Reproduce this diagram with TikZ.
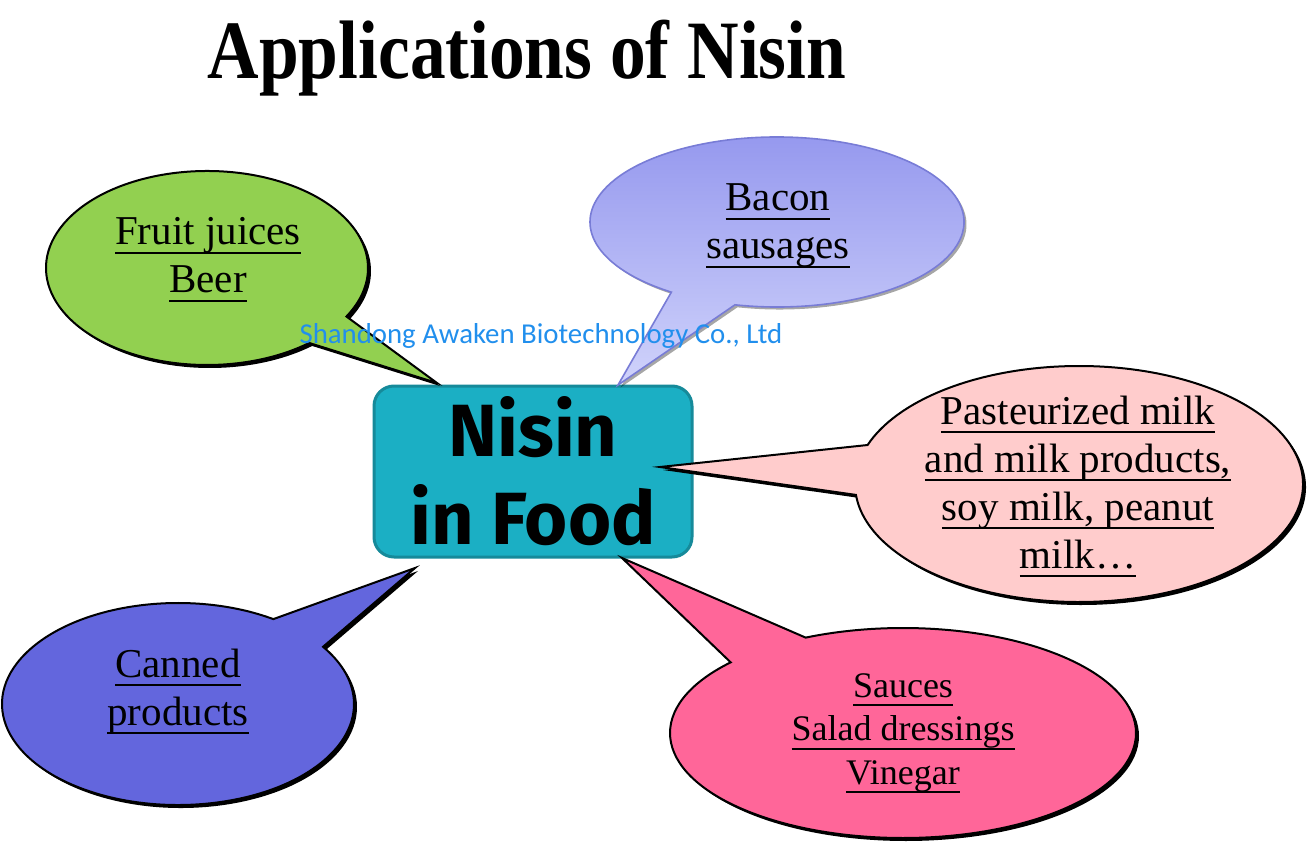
\documentclass[tikz,border=0pt]{standalone}
\usepackage{fontspec}
\usepackage{graphicx}
\setmainfont{Liberation Serif}
\newfontfamily\nisinfont{Fira Sans}
\newfontfamily\wmfont{Carlito}
\usetikzlibrary{calc,shadows}
\newsavebox\ulbox
\newcommand\ulx[1]{\sbox\ulbox{#1}\rlap{\rule[-9pt]{\wd\ulbox}{2pt}}\usebox\ulbox}
\definecolor{gr}{RGB}{146,208,80}
\definecolor{lavtop}{RGB}{148,151,238}
\definecolor{lavbot}{RGB}{208,211,251}
\definecolor{lavline}{RGB}{120,124,214}
\definecolor{lpink}{RGB}{255,204,204}
\definecolor{bl}{RGB}{99,102,221}
\definecolor{hpink}{RGB}{255,102,153}
\definecolor{tealf}{RGB}{27,175,196}
\definecolor{teald}{RGB}{22,138,154}
\definecolor{wmblue}{RGB}{33,143,237}
\begin{document}
\begin{tikzpicture}[x=1pt,y=1pt,
  bubble/.style={draw=black, line width=2pt, line join=miter},
  blackshadow/.style={drop shadow={shadow xshift=3pt, shadow yshift=-3pt, opacity=1, fill=black}},
  grayshadow/.style={drop shadow={shadow xshift=2.5pt, shadow yshift=-2.5pt, opacity=0.35, fill=black}},
  btext/.style={align=center, inner sep=0pt, font=\fontsize{41}{48}\selectfont},
  stext/.style={align=center, inner sep=0pt, font=\fontsize{36}{43.5}\selectfont},
  boxstyle/.style={rectangle, rounded corners=20pt, fill=tealf, draw=teald, line width=3pt,
    minimum width=318pt, minimum height=171pt, inner sep=0pt, align=center,
    font=\nisinfont\bfseries\fontsize{74}{88}\selectfont},
  wm/.style={inner sep=0pt, text=wmblue, font=\wmfont\fontsize{28.8}{32}\selectfont}]
\useasboundingbox (0,0) rectangle (1308,-845);
\fill[white] (0,0) rectangle (1308,-845);

% title
\node[anchor=base, inner sep=0pt] (title) at (527,-79)
  {\scalebox{0.86}[1]{\bfseries\fontsize{83}{90}\selectfont Applications of Nisin}};

% central box
\node[boxstyle] (box) at (533,-471.5) {Nisin\\in Food};

% pointer tips
\coordinate (tG) at (437,-383);
\coordinate (tL) at (618,-385);
\coordinate (tP) at (660,-467);
\coordinate (tB) at (415,-568);
\coordinate (tS) at (622,-558);

% ellipse centres
\coordinate (cG) at (207,-268);
\coordinate (cL) at (777,-222);
\coordinate (cP) at (1079,-484);
\coordinate (cB) at (178,-704);
\coordinate (cS) at (903,-733);

% green bubble
\path[bubble, fill=gr, blackshadow] (tG) -- ($(cG)+(-30:161 and 97)$)
  arc[start angle=-30, end angle=309.4, x radius=161, y radius=97] -- cycle;
% lavender bubble
\path[draw=lavline, line width=1.6pt, top color=lavtop, bottom color=lavbot, grayshadow]
  (tL) -- ($(cL)+(257:187 and 85)$)
  arc[start angle=257, end angle=595.6, x radius=187, y radius=85] -- cycle;
% light pink bubble
\path[bubble, fill=lpink, blackshadow] (tP) -- ($(cP)+(185.3:224 and 118)$)
  arc[start angle=185.3, end angle=520.7, x radius=224, y radius=118] -- cycle;
% blue bubble
\path[bubble, fill=bl, blackshadow] (tB) -- ($(cB)+(57.2:176 and 101)$)
  arc[start angle=57.2, end angle=394.5, x radius=176, y radius=101] -- cycle;
% hot pink bubble
\path[bubble, fill=hpink, blackshadow] (tS) -- ($(cS)+(137.7:233 and 105)$)
  arc[start angle=137.7, end angle=474.7, x radius=233, y radius=105] -- cycle;

% bubble texts
\node[btext] (nG) at (208,-259.5) {\ulx{Fruit juices}\\\ulx{Beer}};
\node[btext] (nL) at (778,-226) {\ulx{Bacon}\\\ulx{sausages}};
\node[btext] (nP) at (1078,-486.5) {\ulx{Pasteurized milk}\\\ulx{and milk products,}\\\ulx{soy milk, peanut}\\\ulx{milk\ldots}};
\node[btext] (nB) at (178,-691.5) {\ulx{Canned}\\\ulx{products}};
\node[stext] (nS) at (903,-733.5) {\ulx{Sauces}\\\ulx{Salad dressings}\\\ulx{Vinegar}};

% watermark
\node[wm, anchor=base] (wmk) at (541,-343) {Shandong Awaken Biotechnology Co., Ltd};
\end{tikzpicture}
\end{document}
